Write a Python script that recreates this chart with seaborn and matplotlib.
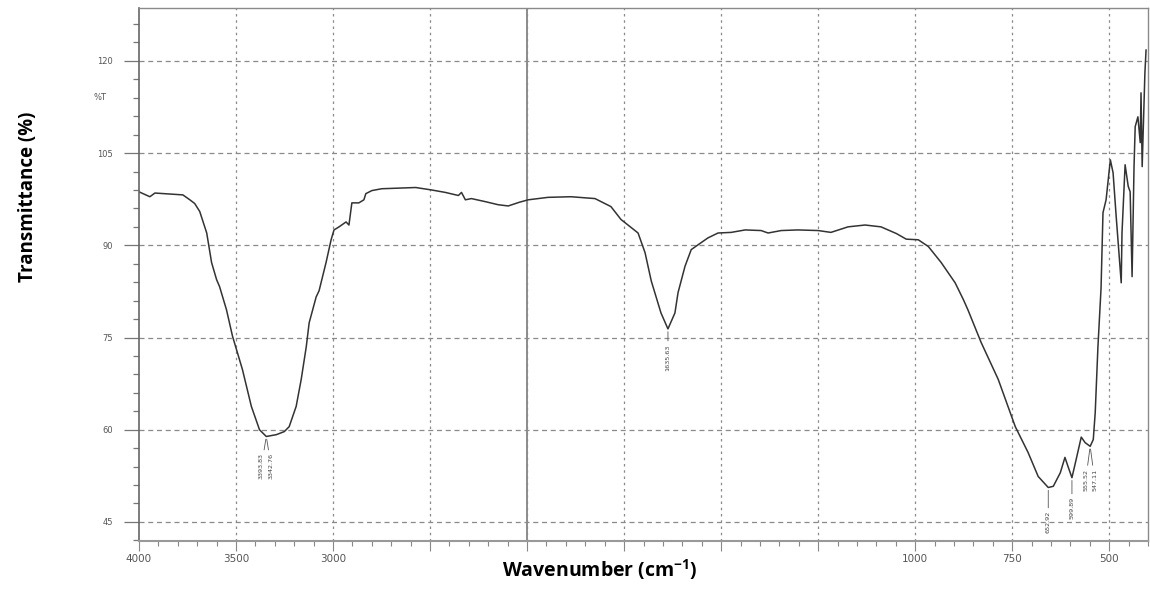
import numpy as np
import pandas as pd
import matplotlib
matplotlib.use("Agg")
import matplotlib.pyplot as plt
from matplotlib.ticker import FixedLocator, FixedFormatter, MultipleLocator
import seaborn as sns

# ---------------- data ----------------
wavenumber = [4000, 3944, 3918, 3774, 3738, 3713, 3687, 3651, 3626, 3600,
              3585, 3549, 3518, 3467, 3421, 3379, 3344, 3292, 3251, 3226,
              3190, 3164, 3138, 3123, 3087, 3072, 3036, 3010, 2995, 2969,
              2933, 2918, 2903, 2867, 2841, 2831, 2800, 2749, 2574, 2492,
              2421, 2354, 2338, 2318, 2287, 2215, 2149, 2097, 2040, 1997,
              1946, 1887, 1825, 1784, 1758, 1740, 1714, 1696, 1680, 1655,
              1637, 1619, 1611, 1593, 1577, 1559, 1534, 1508, 1474, 1438,
              1397, 1379, 1345, 1302, 1250, 1217, 1173, 1129, 1088, 1048,
              1023, 992, 966, 933, 897, 876, 864, 830, 786, 742,
              709, 683, 657, 644, 626, 614, 606, 596, 585, 572,
              562, 549, 541, 536, 529, 521, 516, 508, 497, 490,
              482, 469, 467, 459, 451, 446, 441, 436, 433, 426,
              420, 418, 415, 408, 405]
transmittance = [98.7, 97.9, 98.5, 98.2, 97.4, 96.8, 95.5, 92.0, 87.2, 84.4,
                 83.3, 79.5, 75.2, 69.8, 63.8, 60.0, 58.9, 59.2, 59.7, 60.5,
                 63.8, 68.2, 73.5, 77.4, 81.6, 82.6, 87.2, 90.9, 92.5, 93.0,
                 93.8, 93.3, 96.9, 96.9, 97.4, 98.4, 98.9, 99.2, 99.4, 99.0,
                 98.6, 98.1, 98.6, 97.4, 97.6, 97.1, 96.6, 96.4, 97.0, 97.4,
                 97.8, 97.9, 97.6, 96.3, 94.2, 93.3, 92.0, 88.8, 84.2, 79.0,
                 76.4, 79.0, 82.3, 86.6, 89.3, 90.1, 91.2, 92.0, 92.1, 92.5,
                 92.4, 92.0, 92.4, 92.5, 92.4, 92.1, 93.0, 93.3, 93.0, 91.9,
                 91.0, 90.9, 89.8, 87.2, 83.9, 81.2, 79.5, 74.2, 68.2, 60.5,
                 56.3, 52.4, 50.6, 50.8, 53.0, 55.5, 54.0, 52.2, 55.2, 58.8,
                 57.9, 57.3, 58.4, 62.8, 73.5, 83.0, 95.3, 97.4, 103.9, 101.8,
                 94.7, 83.9, 92.0, 103.1, 99.6, 98.7, 84.9, 102.8, 109.3, 110.9,
                 106.7, 114.8, 102.8, 118.0, 121.8]

# annotated peaks: position (cm-1), label text, label side offset (pt), drop (pt)
peak_wn = [3344, 3344, 1637, 657, 596, 549, 549]
peak_label = ["3393.83", "3342.76", "1635.63", "652.92", "599.89", "555.52", "547.11"]
peak_dx = [-3.5, 3.5, 0, 0, 0, -3.2, 3.2]
peak_drop = [12, 12, 11, 17, 14, 16, 16]

x_major = [4000, 3500, 3000, 2500, 2000, 1750, 1500, 1250, 1000, 750, 500]
x_labels = ["4000", "3500", "3000", "", "", "", "", "", "1000", "750", "500"]
x_minor = list(range(4000, 2000, -100)) + list(range(2000, 399, -50))
y_major = [45, 60, 75, 90, 105, 120]

df = pd.DataFrame({"wn": wavenumber, "T": transmittance})

# ---------------- style ----------------
sns.set_theme(style="white")
plt.rcParams["font.family"] = ["DejaVu Sans"]
plt.rcParams["mathtext.fontset"] = "custom"
plt.rcParams["mathtext.rm"] = "Open Sans"
plt.rcParams["mathtext.bf"] = "Open Sans:bold"

W, H = 1150, 589
fig = plt.figure(figsize=(W / 100, H / 100), dpi=100)
ax = fig.add_axes([139 / W, 1 - 541 / H, (1148 - 139) / W, (541 - 8) / H])


def fwd(x):
    x = np.asarray(x, dtype=float)
    return np.where(x >= 2000, x, 2 * x - 2000)


def inv(u):
    u = np.asarray(u, dtype=float)
    return np.where(u >= 2000, u, (u + 2000) / 2)


ax.set_xscale("function", functions=(fwd, inv))

sns.lineplot(data=df, x="wn", y="T", ax=ax, color="#333333", lw=1.1,
             estimator=None, sort=False, legend=False)

ax.set_xlim(4000, 400)
ax.set_ylim(41.9, 128.6)

# ticks
ax.xaxis.set_major_locator(FixedLocator(x_major))
ax.xaxis.set_major_formatter(FixedFormatter(x_labels))
ax.xaxis.set_minor_locator(FixedLocator(x_minor))
ax.yaxis.set_major_locator(FixedLocator(y_major))
ax.yaxis.set_minor_locator(MultipleLocator(3))

ax.tick_params(axis="x", which="major", direction="out", length=7, width=0.8,
               color="#888", pad=2, labelsize=7.5, labelcolor="#555")
ax.tick_params(axis="x", which="minor", direction="out", length=3.5, width=0.8,
               color="#888")
ax.tick_params(axis="y", which="major", direction="out", length=10.5, width=0.9,
               color="#777", pad=8, labelsize=6, labelcolor="#555")
ax.tick_params(axis="y", which="minor", direction="out", length=4.5, width=0.9,
               color="#777")
ax.tick_params(bottom=True, left=True, top=False, right=False, which="both")

# grid
ax.grid(False)
for xv in x_major[1:]:
    ax.axvline(xv, color="#8a8a8a", lw=0.9, ls=(0, (2, 3)), zorder=0)
for yv in y_major:
    ax.axhline(yv, color="#8a8a8a", lw=0.9, ls=(0, (4, 3)), zorder=0)
ax.axvline(2000, color="#8c8c8c", lw=1.4, ls="-", zorder=0)

for s in ["top", "right"]:
    ax.spines[s].set_color("#8a8a8a")
    ax.spines[s].set_linewidth(1.0)
ax.spines["left"].set_color("#666")
ax.spines["left"].set_linewidth(1.2)
ax.spines["bottom"].set_color("#999")
ax.spines["bottom"].set_linewidth(1.5)

# peak annotations
tmap = dict(zip(wavenumber, transmittance))
for wn, lab, dx, dr in zip(peak_wn, peak_label, peak_dx, peak_drop):
    ax.annotate(lab, xy=(wn, tmap[wn]), xytext=(dx, -dr), textcoords="offset points",
                rotation=90, ha="center", va="top", fontsize=4.6, color="#444",
                arrowprops=dict(arrowstyle="-", color="#555", lw=0.6,
                                shrinkA=0, shrinkB=2))

# axis labels
ax.set_xlabel("")
ax.set_ylabel("")
fig.text(100 / W, 1 - 97 / H, "%T", ha="center", va="center", fontsize=6, color="#555")
fig.text(600 / W, 1 - 570 / H, r"Wavenumber (cm$^{\mathbf{-1}}$)", ha="center", va="center",
         fontsize=14, fontweight="bold", family="Open Sans", color="black")
fig.text(28 / W, 1 - 197 / H, "Transmittance (%)", ha="center", va="center", rotation=90,
         fontsize=13.5, fontweight="bold", family="Open Sans", color="black")

fig.savefig("out.png", dpi=100)
